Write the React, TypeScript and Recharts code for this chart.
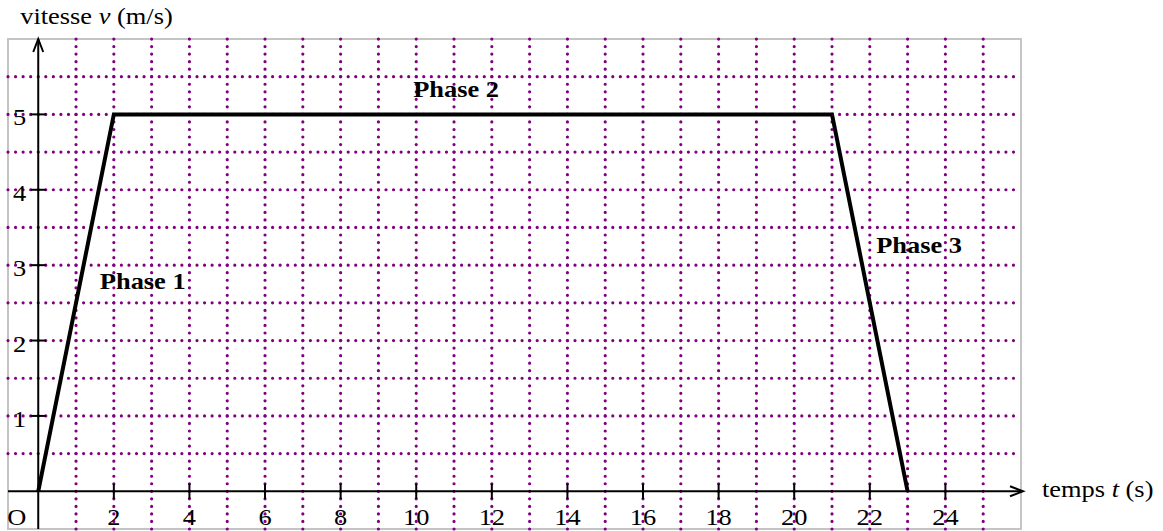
import { LineChart, Line, XAxis, YAxis, ReferenceLine, ReferenceDot, ReferenceArea } from 'recharts';

// v(t) du trapèze
const times = [0, 2, 21, 23];
const speeds = [0, 5, 5, 0];

const xTicks = [2, 4, 6, 8, 10, 12, 14, 16, 18, 20, 22, 24];
const yTicks = [1, 2, 3, 4, 5];
const xGrid = [1, 2, 3, 4, 5, 6, 7, 8, 9, 10, 11, 12, 13, 14, 15, 16, 17, 18, 19, 20, 21, 22, 23, 24, 25];
const yGrid = [0.5, 1, 1.5, 2, 2.5, 3, 3.5, 4, 4.5, 5, 5.5];

const phaseNames = ['Phase 1', 'Phase 2', 'Phase 3'];
const phaseAt = [
  { x: 1.63, y: 2.68 },
  { x: 9.92, y: 5.23 },
  { x: 22.17, y: 3.16 },
];

const data = times.map((t, i) => ({ t, v: speeds[i] }));

const FONT = "'Liberation Serif', 'Times New Roman', serif";
const PURPLE = '#800080';

// texte légèrement étiré horizontalement, comme l'original
function Txt({ x, y, anchor = 'start', bold = false, children }: any) {
  return (
    <text
      transform={`translate(${x} ${y}) scale(1.1 1)`}
      textAnchor={anchor}
      fontFamily={FONT}
      fontSize={24}
      fontWeight={bold ? 'bold' : 'normal'}
      fill="#000"
    >
      {children}
    </text>
  );
}

const arrowLine = (dir: 'up' | 'right') => (p: any) => {
  const { x1, y1, x2, y2 } = p;
  let head;
  if (dir === 'right') {
    const tx = x2 + 2;
    head = `M${tx - 13},${y2 - 5} L${tx},${y2} L${tx - 13},${y2 + 5}`;
  } else {
    const ty = Math.min(y1, y2);
    const tx = x2;
    head = `M${tx - 5},${ty + 13} L${tx},${ty} L${tx + 5},${ty + 13}`;
  }
  return (
    <g>
      <line x1={x1} y1={y1} x2={x2} y2={y2} stroke="#000" strokeWidth={2} />
      <path d={head} fill="none" stroke="#000" strokeWidth={2} />
    </g>
  );
};

export default function App() {
  return (
    <div style={{ position: 'absolute', left: 0, top: 0, width: 1163, height: 531, overflow: 'hidden', background: '#fff' }}>
      <LineChart width={1163} height={531} data={data} margin={{ top: 39, right: 142, bottom: 2, left: 8 }}>
        <XAxis type="number" dataKey="t" domain={[-0.8, 26]} allowDataOverflow hide />
        <YAxis type="number" dataKey="v" domain={[-0.5, 6]} allowDataOverflow hide />

        <ReferenceArea x1={-0.8} x2={26} y1={-0.5} y2={6} fill="none" stroke="#c4c4c4" strokeWidth={2} />

        {xGrid.map((g) => (
          <ReferenceLine key={'gx' + g} x={g} stroke={PURPLE} strokeWidth={3.2} strokeLinecap="round" strokeDasharray="0 7.538" />
        ))}
        {yGrid.map((g) => (
          <ReferenceLine key={'gy' + g} y={g} stroke={PURPLE} strokeWidth={3.2} strokeLinecap="round" strokeDasharray="0 7.56" />
        ))}

        <ReferenceLine segment={[{ x: -0.8, y: 0 }, { x: 26, y: 0 }]} shape={arrowLine('right')} />
        <ReferenceLine segment={[{ x: 0, y: -0.5 }, { x: 0, y: 6 }]} shape={arrowLine('up')} />

        {xTicks.map((t) => (
          <ReferenceLine key={'tx' + t} segment={[{ x: t, y: -0.1 }, { x: t, y: 0.1 }]} stroke="#000" strokeWidth={2} />
        ))}
        {yTicks.map((t) => (
          <ReferenceLine key={'ty' + t} segment={[{ x: -0.2, y: t }, { x: 0.2, y: t }]} stroke="#000" strokeWidth={2} />
        ))}

        <Line type="linear" dataKey="v" stroke="#000" strokeWidth={4} dot={false} isAnimationActive={false} />

        {xTicks.map((t) => (
          <ReferenceDot key={'lx' + t} x={t} y={0} r={0}
            shape={(p: any) => <Txt x={p.cx} y={p.cy + 34} anchor="middle">{t}</Txt>} />
        ))}
        {yTicks.map((t) => (
          <ReferenceDot key={'ly' + t} x={0} y={t} r={0}
            shape={(p: any) => <Txt x={p.cx - 12} y={p.cy + 11} anchor="end">{t}</Txt>} />
        ))}
        <ReferenceDot x={0} y={0} r={0} shape={(p: any) => <Txt x={p.cx - 31} y={p.cy + 34}>O</Txt>} />

        {phaseNames.map((n, i) => (
          <ReferenceDot key={n} x={phaseAt[i].x} y={phaseAt[i].y} r={0}
            shape={(p: any) => <Txt x={p.cx} y={p.cy} bold>{n}</Txt>} />
        ))}

        <ReferenceDot x={0} y={6} r={0}
          shape={(p: any) => (
            <Txt x={p.cx - 18} y={p.cy - 15}>
              vitesse <tspan fontStyle="italic">v</tspan> (m/s)
            </Txt>
          )} />
        <ReferenceDot x={26} y={0} r={0}
          shape={(p: any) => (
            <Txt x={p.cx + 21} y={p.cy + 6}>
              temps <tspan fontStyle="italic">t</tspan> (s)
            </Txt>
          )} />
      </LineChart>
    </div>
  );
}
